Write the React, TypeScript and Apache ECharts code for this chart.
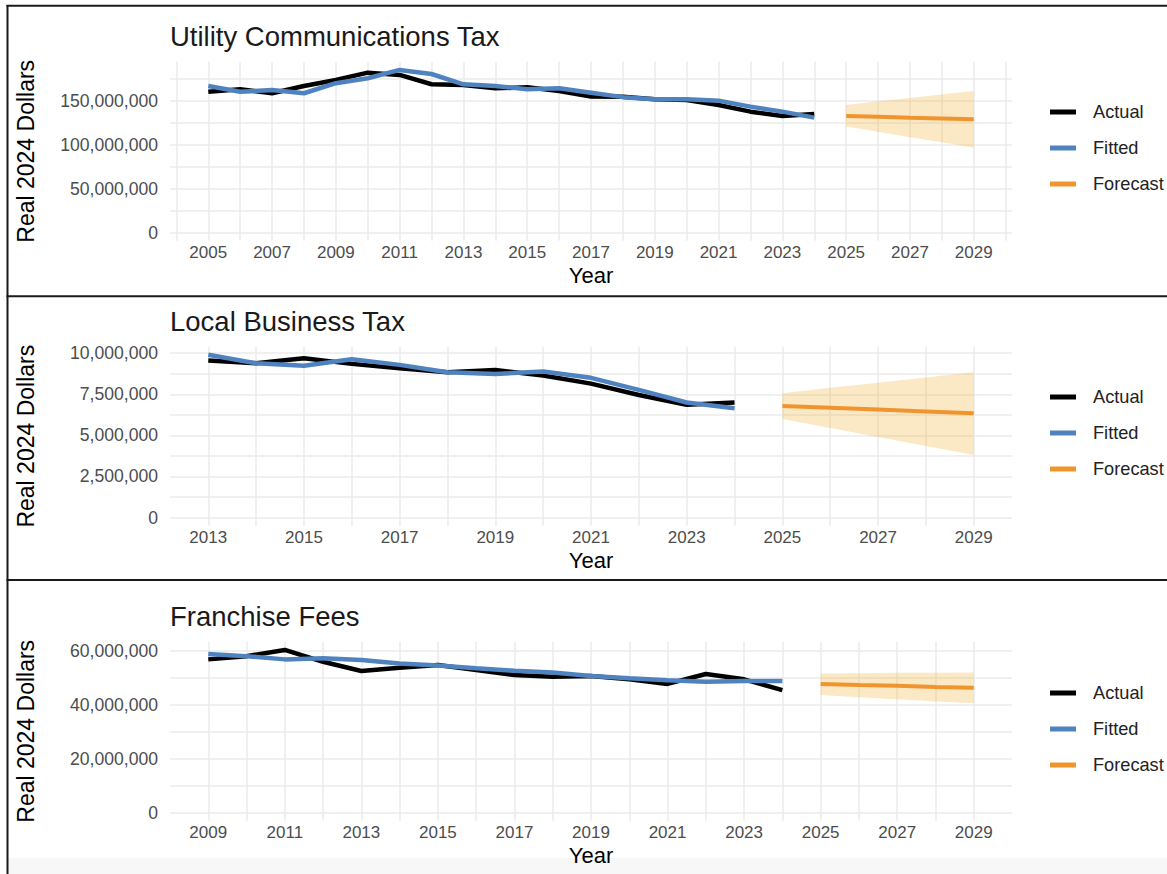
import React, { useEffect, useRef } from "react";
import * as echarts from "echarts";

// ---------- data (values in millions of real 2024 dollars) ----------
const UNIT = 1e6;
const forecastYears = [2025, 2026, 2027, 2028, 2029];

const utilYears = [2005, 2006, 2007, 2008, 2009, 2010, 2011, 2012, 2013, 2014, 2015, 2016, 2017, 2018, 2019, 2020, 2021, 2022, 2023, 2024];
const utilActual = [160, 163, 158.4, 166.7, 173.5, 181.8, 179.2, 168.6, 167.8, 164, 165.2, 161, 154.6, 154.5, 151.6, 150.8, 145, 137.5, 132.6, 134.9];
const utilFitted = [166.7, 160.2, 162, 158.4, 169.8, 175.4, 184.9, 180.3, 168.6, 166.7, 163, 164, 159, 154, 151.6, 151.6, 150, 143.2, 137.5, 130.7];
const utilForecast = [132.6, 131.7, 130.6, 129.8, 128.8];
const utilLower = [120.5, 114.6, 108.4, 102.7, 96.6];
const utilUpper = [145.0, 149.2, 153.1, 157.0, 161.0];

const lbtYears = [2013, 2014, 2015, 2016, 2017, 2018, 2019, 2020, 2021, 2022, 2023, 2024];
const lbtActual = [9.55, 9.39, 9.69, 9.35, 9.09, 8.84, 8.98, 8.64, 8.15, 7.46, 6.86, 7.0];
const lbtFitted = [9.9, 9.39, 9.23, 9.63, 9.29, 8.84, 8.74, 8.88, 8.5, 7.77, 7.0, 6.65];
const lbtForecast = [6.79, 6.68, 6.57, 6.46, 6.35];
const lbtLower = [6.0, 5.45, 4.9, 4.35, 3.81];
const lbtUpper = [7.57, 7.89, 8.2, 8.52, 8.84];

const ffYears = [2009, 2010, 2011, 2012, 2013, 2014, 2015, 2016, 2017, 2018, 2019, 2020, 2021, 2022, 2023, 2024];
const ffActual = [56.8, 58.0, 60.3, 55.9, 52.5, 53.7, 54.7, 52.9, 51.0, 50.4, 50.6, 49.4, 47.7, 51.4, 49.4, 45.4];
const ffFitted = [58.8, 58.0, 56.8, 57.2, 56.6, 55.3, 54.5, 53.5, 52.6, 51.9, 50.6, 49.8, 49.1, 48.5, 48.8, 48.8];
const ffForecast = [47.7, 47.3, 47.0, 46.6, 46.3];
const ffLower = [43.6, 42.8, 42.0, 41.3, 40.5];
const ffUpper = [51.6, 51.7, 51.8, 51.8, 51.9];

const titles = ["Utility Communications Tax", "Local Business Tax", "Franchise Fees"];
const legendNames = ["Actual", "Fitted", "Forecast"];
const yLabelSteps = [50e6, 2.5e6, 20e6];

// ---------- styles ----------
const FONT = "'Liberation Sans', Arial, Helvetica, sans-serif";
const BLACK = "#000000";
const BLUE = "#4f83bf";
const ORANGE = "#f0952e";
const BAND = "rgba(240,170,40,0.27)";
const GRID = "#ebebeb";
const GRID_LEFT = 170;
const GRID_WIDTH = 842;
const GRID_HEIGHT = 179;
const GRID_TOPS = [61.8, 346.7, 641.8];
const TITLE_Y = [36, 321, 616];
const LEGEND_TOPS = [102, 387, 683];

type Panel = {
  years: number[];
  actual: number[];
  fitted: number[];
  forecast: number[];
  lower: number[];
  upper: number[];
};

const panels: Panel[] = [
  { years: utilYears, actual: utilActual, fitted: utilFitted, forecast: utilForecast, lower: utilLower, upper: utilUpper },
  { years: lbtYears, actual: lbtActual, fitted: lbtFitted, forecast: lbtForecast, lower: lbtLower, upper: lbtUpper },
  { years: ffYears, actual: ffActual, fitted: ffFitted, forecast: ffForecast, lower: ffLower, upper: ffUpper },
];

const pairs = (xs: number[], ys: number[]) => xs.map((x, i) => [x, ys[i] * UNIT]);

function buildOption() {
  const grid: any[] = [];
  const xAxis: any[] = [];
  const yAxis: any[] = [];
  const series: any[] = [];
  const legend: any[] = [];
  const graphic: any[] = [];

  panels.forEach((p, i) => {
    const first = p.years[0];
    const last = forecastYears[forecastYears.length - 1];
    const span = last - first;
    const xMin = first - 0.05 * span;
    const xMax = last + 0.05 * span;
    const dataMax = Math.max(...p.actual, ...p.fitted, ...p.upper, ...p.forecast) * UNIT;
    const yMin = -0.05 * dataMax;
    const yMax = 1.05 * dataMax;
    const step = yLabelSteps[i];

    grid.push({ left: GRID_LEFT, top: GRID_TOPS[i], width: GRID_WIDTH, height: GRID_HEIGHT, containLabel: false, outerBoundsMode: "none" });

    xAxis.push({
      type: "value",
      gridIndex: i,
      min: xMin,
      max: xMax,
      minInterval: 1,
      maxInterval: 1,
      splitNumber: Math.round(span),
      name: "Year",
      nameLocation: "middle",
      nameGap: 24,
      nameTextStyle: { fontFamily: FONT, fontSize: 22, color: "#000" },
      axisLine: { show: false, onZero: false },
      axisTick: { show: false },
      axisLabel: {
        fontFamily: FONT,
        fontSize: 17,
        color: "#4d4d4d",
        margin: 3,
        showMinLabel: false,
        showMaxLabel: false,
        formatter: (v: number) => {
          const r = Math.round(v);
          if (Math.abs(v - r) > 1e-6) return "";
          if (r < first || r > last) return "";
          return Math.abs(r % 2) === 1 ? String(r) : "";
        },
      },
      splitLine: { show: true, showMinLine: false, showMaxLine: false, lineStyle: { color: GRID, width: 1.5 } },
    });

    yAxis.push({
      type: "value",
      gridIndex: i,
      min: yMin,
      max: yMax,
      minInterval: step / 2,
      maxInterval: step / 2,
      splitNumber: 8,
      name: "Real 2024 Dollars",
      nameLocation: "middle",
      nameGap: 133,
      nameTextStyle: { fontFamily: FONT, fontSize: 23, color: "#000" },
      axisLine: { show: false, onZero: false },
      axisTick: { show: false },
      axisLabel: {
        fontFamily: FONT,
        fontSize: 17.6,
        color: "#4d4d4d",
        margin: 12,
        showMinLabel: false,
        showMaxLabel: false,
        formatter: (v: number) => {
          const r = Math.round(v);
          if (Math.abs(v - r) > 1 || r < 0) return "";
          return r % step === 0 ? r.toLocaleString("en-US") : "";
        },
      },
      splitLine: { show: true, showMinLine: false, showMaxLine: false, lineStyle: { color: GRID, width: 1.5 } },
    });

    // forecast interval ribbon, drawn through the axis scales
    const bandData = forecastYears.map((yr, k) => [yr, p.lower[k] * UNIT, p.upper[k] * UNIT]);
    series.push({
      name: "interval" + i,
      type: "custom",
      xAxisIndex: i,
      yAxisIndex: i,
      data: bandData,
      silent: true,
      z: 1,
      encode: { x: 0, y: [1, 2] },
      renderItem: (params: any, api: any) => {
        if (params.dataIndex !== 0) return null;
        const upperPts = bandData.map((d) => api.coord([d[0], d[2]]));
        const lowerPts = bandData.map((d) => api.coord([d[0], d[1]])).reverse();
        return {
          type: "polygon",
          shape: { points: upperPts.concat(lowerPts) },
          style: { fill: BAND, stroke: "none" },
        };
      },
    });
    series.push({
      name: "Forecast",
      type: "line",
      xAxisIndex: i,
      yAxisIndex: i,
      data: pairs(forecastYears, p.forecast),
      symbol: "none",
      itemStyle: { color: ORANGE },
      lineStyle: { color: ORANGE, width: 4 },
      z: 2,
    });
    series.push({
      name: "Actual",
      type: "line",
      xAxisIndex: i,
      yAxisIndex: i,
      data: pairs(p.years, p.actual),
      symbol: "none",
      itemStyle: { color: BLACK },
      lineStyle: { color: BLACK, width: 4.5 },
      z: 3,
    });
    series.push({
      name: "Fitted",
      type: "line",
      xAxisIndex: i,
      yAxisIndex: i,
      data: pairs(p.years, p.fitted),
      symbol: "none",
      itemStyle: { color: BLUE },
      lineStyle: { color: BLUE, width: 4.5 },
      z: 4,
    });

    legend.push({
      data: legendNames,
      orient: "vertical",
      left: 1050,
      top: LEGEND_TOPS[i],
      padding: 0,
      icon: "rect",
      itemWidth: 26,
      itemHeight: 5,
      itemGap: 16,
      selectedMode: false,
      textStyle: { fontFamily: FONT, fontSize: 18.2, color: "#222", lineHeight: 20, padding: [0, 0, 0, 12] },
    });

    graphic.push({
      type: "text",
      x: GRID_LEFT,
      y: TITLE_Y[i],
      style: { text: titles[i], fontFamily: FONT, fontSize: 27.5, fill: "#1a1a1a", textVerticalAlign: "middle", verticalAlign: "middle" },
    });
  });

  // panel frame lines
  const frame = { stroke: "#1a1a1a", lineWidth: 2 };
  graphic.push({ type: "rect", shape: { x: 8, y: 858, width: 1159, height: 16 }, style: { fill: "#f7f7f7" }, silent: true });
  graphic.push({ type: "line", shape: { x1: 7.5, y1: 5, x2: 7.5, y2: 874 }, style: frame, silent: true });
  graphic.push({ type: "line", shape: { x1: 6.5, y1: 5.75, x2: 1167, y2: 5.75 }, style: frame, silent: true });
  graphic.push({ type: "line", shape: { x1: 6.5, y1: 296.2, x2: 1167, y2: 296.2 }, style: frame, silent: true });
  graphic.push({ type: "line", shape: { x1: 6.5, y1: 580, x2: 1167, y2: 580 }, style: frame, silent: true });

  return {
    animation: false,
    backgroundColor: "#ffffff",
    textStyle: { fontFamily: FONT },
    grid,
    xAxis,
    yAxis,
    series,
    legend,
    graphic,
  };
}

export default function App() {
  const ref = useRef<HTMLDivElement>(null);
  useEffect(() => {
    if (!ref.current) return;
    const chart = echarts.init(ref.current, undefined, { renderer: "svg" });
    chart.setOption(buildOption() as any);
    return () => chart.dispose();
  }, []);
  return <div ref={ref} style={{ position: "absolute", left: 0, top: 0, width: 1167, height: 874 }} />;
}
